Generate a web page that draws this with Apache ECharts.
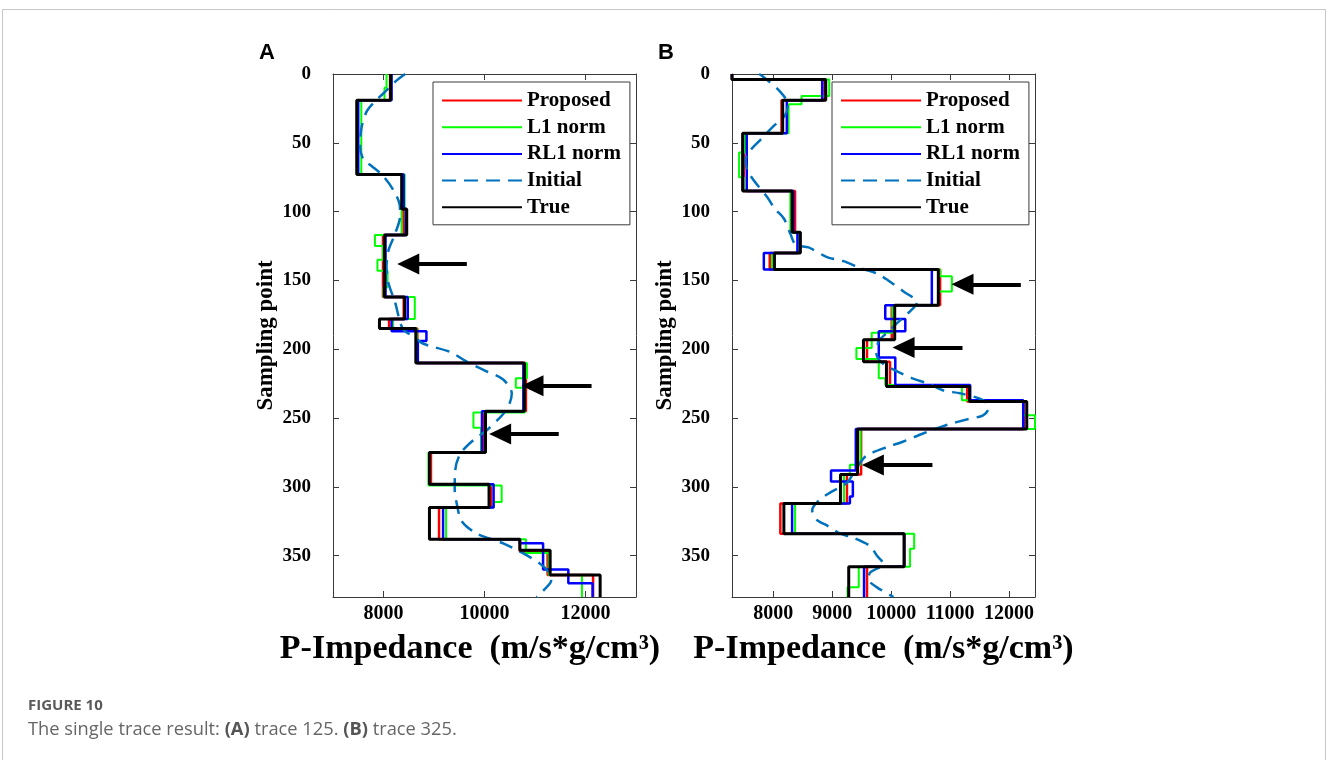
<!DOCTYPE html>
<html><head><meta charset="utf-8">
<script src="https://cdn.jsdelivr.net/npm/echarts@6/dist/echarts.min.js"></script>
<style>html,body{margin:0;padding:0;background:#fff}#c{width:1328px;height:760px}</style>
</head><body><div id="c"></div><script>
// ---------- data ----------
const seriesNames = ['Proposed', 'L1 norm', 'RL1 norm', 'Initial', 'True'];
const yTicks = [0, 50, 100, 150, 200, 250, 300, 350];
const xTicksA = [8000, 10000, 12000];
const xTicksB = [8000, 9000, 10000, 11000, 12000];

// Panel A (trace 125): step boundaries (sampling point) and impedance values
const trueA_depth = [0,19,73,98,117,162,178,185,210,245,275,298,315,338,346,364,380];
const trueA_val   = [8140,7470,8360,8460,8020,8420,7920,8640,10790,10020,8910,10090,8910,10700,11300,12290];
const propA_depth = [0,19,73,98,117,162,178,185,210,245,275,298,315,338,347,364,380];
const propA_val   = [8130,7480,8390,8400,7990,8400,8110,8670,10820,9980,8940,10130,9100,10700,11250,12150];
const rl1A_depth  = [0,19,73,98,117,162,178,187,194,210,245,275,298,315,338,341,360,370,380];
const rl1A_val    = [8160,7500,8400,8440,8040,8480,8160,8850,8680,10770,9950,8910,10180,9180,10700,11160,11660,12140];
const l1A_depth   = [0,10,19,73,98,117,125,135,143,155,162,178,185,210,221,228,246,257,275,299,311,315,338,348,364,380];
const l1A_val     = [8060,8020,7560,8420,8360,7830,7990,7880,8080,8000,8620,8190,8660,10840,10620,10800,9780,9930,8890,10340,10180,9240,10820,11270,11930];
const initA_depth = [0,5,14,21,27,38,52,62,67,74,84,95,103,116,128,140,152,166,185,191,196,202,209,216,222,232,239,247,259,266,276,288,302,312,325,334,341,351,360,368,374,380];
const initA_val   = [8430,8250,8000,7800,7670,7570,7535,7600,7770,7990,8190,8320,8330,8230,8100,8060,8100,8230,8380,8600,8790,9320,9650,10040,10370,10540,10500,10370,10040,9780,9520,9420,9410,9450,9550,9850,10370,10900,11230,11320,11200,11030];

// Panel B (trace 325)
const trueB_depth = [0,4,19,43,85,115,130,142,168,193,209,227,238,258,291,312,334,358,380];
const trueB_val   = [7300,8890,8160,7480,8320,8460,8020,10800,10060,9530,9920,11330,12300,9430,9140,8180,10220,9280];
const propB_depth = [0,4,19,43,85,115,130,142,168,193,209,227,238,258,291,312,334,358,380];
const propB_val   = [7300,8870,8140,7500,8370,8430,7940,10830,10010,9590,9980,11290,12250,9490,9250,8120,10220,9590];
const rl1B_depth  = [0,4,19,43,85,115,130,142,168,178,187,206,226,237,258,288,296,307,312,334,358,380];
const rl1B_val    = [7300,8830,8230,7550,8340,8410,7840,10690,9900,10240,9790,10070,11340,12240,9400,8980,9350,9300,8320,10220,9540];
const l1B_depth   = [0,4,16,22,43,57,75,85,115,130,142,147,158,168,188,199,207,221,226,237,248,258,284,291,312,334,345,358,373,380];
const l1B_val     = [7300,8950,8480,8260,7520,7420,7500,8290,8430,7980,10830,11030,10800,10020,9670,9410,9790,9900,11200,12240,12440,9480,9300,9200,8370,10390,10320,9450,9260];
const initB_depth = [0,2,13,22,30,38,47,58,63,70,79,89,98,105,116,124,126,133,136,141,145,150,158,166,170,181,188,194,203,210,216,221,225,230,232,237,243,248,251,255,261,267,271,277,282,290,297,304,310,317,324,328,334,337,343,350,356,362,367,373,380];
const initB_val   = [7760,7830,8120,8250,8200,8000,7800,7560,7530,7560,7700,7890,8030,8180,8290,8380,8600,8910,9190,9480,9760,9950,10210,10440,10380,10100,9930,9790,9750,9850,10100,10350,10630,10890,11170,11560,11650,11560,11280,10940,10550,10210,9930,9590,9480,9360,9250,8970,8770,8660,8740,8910,9140,9360,9640,9760,9870,9650,9610,9760,10040];

// Arrow annotations: [sampling point, tip value, tail value]
const arrowsA = [[138, 8490, 9650], [226.5, 10950, 12120], [261.5, 10310, 11470]];
const arrowsB = [[152.8, 11210, 12200], [198.8, 10210, 11210], [284.1, 9690, 10700]];

// ---------- helpers ----------
function steps(depth, val) {
  const pts = [];
  for (let i = 0; i < val.length; i++) {
    pts.push([val[i], depth[i]]);
    pts.push([val[i], depth[i + 1]]);
  }
  return pts;
}
function curve(depth, val) { return val.map((v, i) => [v, depth[i]]); }
function arrowLines(arr) {
  return arr.map(a => [{ coord: [a[2], a[0]] }, { coord: [a[1], a[0]] }]);
}

const SERIF = "'Liberation Serif', 'Times New Roman', serif";
const colors = { 'Proposed': '#ff0000', 'L1 norm': '#00ff00', 'RL1 norm': '#0000ff', 'Initial': '#0072BD', 'True': '#000000' };
const widths = { 'Proposed': 2.5, 'L1 norm': 2, 'RL1 norm': 2.5, 'Initial': 2.5, 'True': 3 };

function mkSeries(name, data, gi, extra) {
  const s = {
    name, type: 'line', data, xAxisIndex: gi * 2, yAxisIndex: gi * 2,
    symbol: 'none', showSymbol: false, animation: false, clip: true,
    lineStyle: { color: colors[name], width: widths[name], type: name === 'Initial' ? [14, 8] : 'solid' },
    itemStyle: { color: colors[name] },
    emphasis: { disabled: true }
  };
  return Object.assign(s, extra || {});
}
function markArrows(arr) {
  return {
    markLine: {
      silent: true, animation: false,
      symbol: ['none', 'triangle'], symbolSize: [21, 22],
      label: { show: false },
      lineStyle: { color: '#000', width: 4, type: 'solid' },
      emphasis: { disabled: true },
      data: arrowLines(arr)
    }
  };
}

function xAx(gi, pos, min, max, ticks, showName) {
  return {
    type: 'value', gridIndex: gi, position: pos, min, max,
    splitLine: { show: false },
    axisLine: { show: true, onZero: false, lineStyle: { color: '#3a3a3a', width: 1 } },
    axisTick: { show: true, inside: true, length: 6, customValues: ticks, lineStyle: { color: '#3a3a3a' } },
    axisLabel: { show: pos === 'bottom', customValues: ticks, margin: 7, color: '#000',
      formatter: v => String(v),
      fontFamily: SERIF, fontWeight: 'bold', fontSize: 20 },
    name: showName ? 'P-Impedance  (m/s*g/cm³)' : '',
    nameLocation: 'middle', nameGap: 35,
    nameTextStyle: { fontFamily: SERIF, fontWeight: 'bold', fontSize: 34, color: '#000',
      padding: gi === 0 ? [0, 29, 0, 0] : [0, 0, 0, 0] }
  };
}
function yAx(gi, pos) {
  return {
    type: 'value', gridIndex: gi, position: pos, min: 0, max: 380, inverse: true,
    splitLine: { show: false },
    axisLine: { show: true, onZero: false, lineStyle: { color: '#3a3a3a', width: 1 } },
    axisTick: { show: true, inside: true, length: 6, customValues: yTicks, lineStyle: { color: '#3a3a3a' } },
    axisLabel: { show: pos === 'left', customValues: yTicks, margin: 22, color: '#000',
      formatter: v => String(v),
      fontFamily: SERIF, fontWeight: 'bold', fontSize: 19 },
    name: pos === 'left' ? 'Sampling point' : '',
    nameLocation: 'middle', nameGap: 55,
    nameTextStyle: { fontFamily: SERIF, fontWeight: 'bold', fontSize: 23, color: '#000' }
  };
}
function legendAt(left) {
  return {
    orient: 'vertical', left, top: 82, data: seriesNames,
    itemWidth: 80, itemHeight: 14, itemGap: 5.7,
    padding: [8, 9, 7, 8],
    borderColor: '#3a3a3a', borderWidth: 1, borderRadius: 0, backgroundColor: '#fff',
    selectedMode: false,
    itemStyle: { opacity: 0, borderWidth: 0 },
    textStyle: { fontFamily: SERIF, fontWeight: 'bold', fontSize: 21, color: '#000' }
  };
}

const series = [];
[[0, propA_depth, propA_val, l1A_depth, l1A_val, rl1A_depth, rl1A_val, initA_depth, initA_val, trueA_depth, trueA_val, arrowsA],
 [1, propB_depth, propB_val, l1B_depth, l1B_val, rl1B_depth, rl1B_val, initB_depth, initB_val, trueB_depth, trueB_val, arrowsB]]
.forEach(p => {
  const gi = p[0];
  series.push(mkSeries('Proposed', steps(p[1], p[2]), gi));
  series.push(mkSeries('L1 norm', steps(p[3], p[4]), gi));
  series.push(mkSeries('RL1 norm', steps(p[5], p[6]), gi));
  series.push(mkSeries('Initial', curve(p[7], p[8]), gi, { smooth: 0.3 }));
  series.push(mkSeries('True', steps(p[9], p[10]), gi, markArrows(p[11])));
});

const CAP = "'Open Sans', 'Noto Sans', sans-serif";
const option = {
  backgroundColor: '#fff',
  animation: false,
  grid: [
    { left: 333, top: 74, width: 303, height: 523 },
    { left: 732, top: 74, width: 303, height: 523 }
  ],
  xAxis: [
    xAx(0, 'bottom', 7000, 13000, xTicksA, true), xAx(0, 'top', 7000, 13000, xTicksA, false),
    xAx(1, 'bottom', 7300, 12440, xTicksB, true), xAx(1, 'top', 7300, 12440, xTicksB, false)
  ],
  yAxis: [yAx(0, 'left'), yAx(0, 'right'), yAx(1, 'left'), yAx(1, 'right')],
  legend: [legendAt(433), legendAt(832)],
  title: [
    { text: 'A', left: 259, top: 42, padding: 0, textStyle: { fontFamily: "'Liberation Sans', Arial, sans-serif", fontWeight: 'bold', fontSize: 22, color: '#000' } },
    { text: 'B', left: 658, top: 42, padding: 0, textStyle: { fontFamily: "'Liberation Sans', Arial, sans-serif", fontWeight: 'bold', fontSize: 22, color: '#000' } },
    { text: 'FIGURE 10', left: 28, top: 698, padding: 0, textStyle: { fontFamily: CAP, fontWeight: 'bold', fontSize: 15, color: '#5a5a5a' } },
    { text: '{n|The single trace result: }{b|(A)}{n| trace 125. }{b|(B)}{n| trace 325.}', left: 28, top: 721, padding: 0,
      textStyle: { fontWeight: 'normal', rich: {
        n: { fontFamily: CAP, fontSize: 18.3, fontWeight: 'normal', color: '#666' },
        b: { fontFamily: CAP, fontSize: 18.3, fontWeight: 'bold', color: '#555' } } } }
  ],
  graphic: [{
    type: 'rect', silent: true, z: -10,
    shape: { x: 2.5, y: 9.5, width: 1323, height: 760 },
    style: { fill: 'none', stroke: '#c8c8c8', lineWidth: 1 }
  }],
  series
};
const chart = echarts.init(document.getElementById('c'), null, { renderer: 'canvas' });
chart.setOption(option);
</script></body></html>
